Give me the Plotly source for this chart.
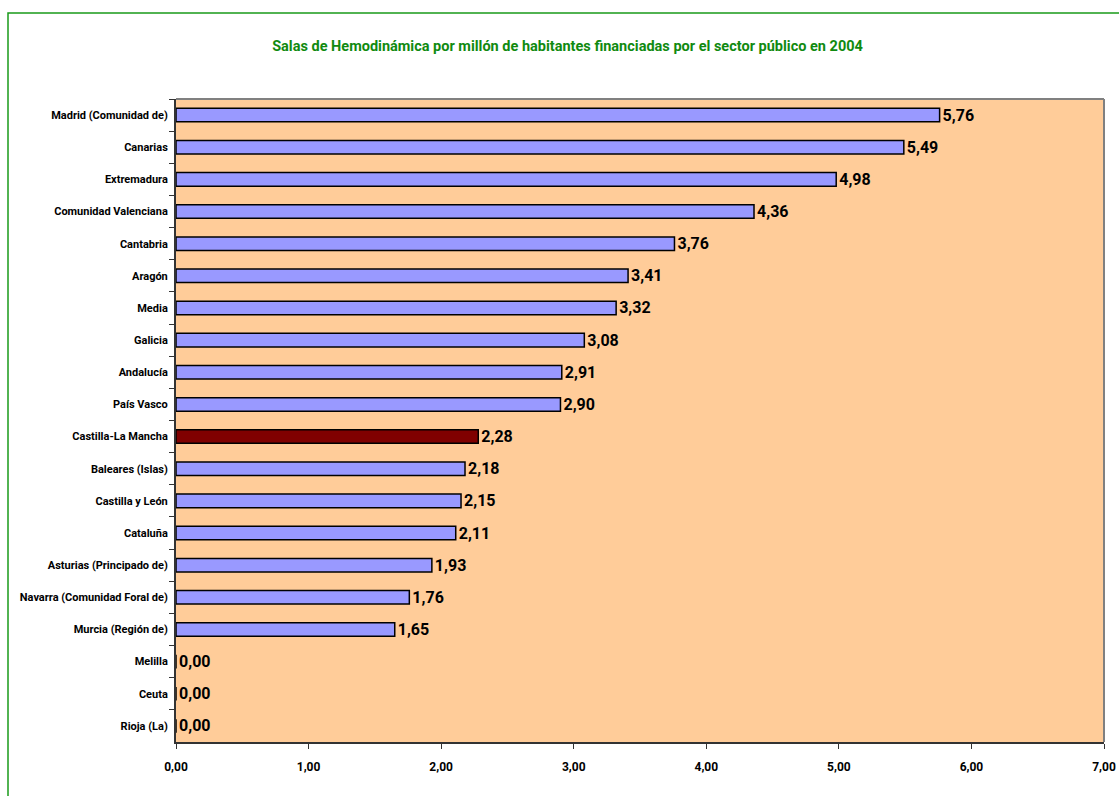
import plotly.graph_objects as go

# Data
regiones = [
    "Madrid (Comunidad de)", "Canarias", "Extremadura", "Comunidad Valenciana",
    "Cantabria", "Aragón", "Media", "Galicia", "Andalucía", "País Vasco",
    "Castilla-La Mancha", "Baleares (Islas)", "Castilla y León", "Cataluña",
    "Asturias (Principado de)", "Navarra (Comunidad Foral de)", "Murcia (Región de)",
    "Melilla", "Ceuta", "Rioja (La)",
]
salas = [5.76, 5.49, 4.98, 4.36, 3.76, 3.41, 3.32, 3.08, 2.91, 2.90,
         2.28, 2.18, 2.15, 2.11, 1.93, 1.76, 1.65, 0.00, 0.00, 0.00]
destacada = "Castilla-La Mancha"
x_ticks = [0, 1, 2, 3, 4, 5, 6, 7]

font_fam = "Roboto, Liberation Sans, sans-serif"
colores = ["#800000" if r == destacada else "#9999FF" for r in regiones]

W, H = 1119, 796
ml, mr, mt, mb = 176, 15, 99, 54

fig = go.Figure(go.Bar(
    x=salas,
    y=regiones,
    orientation="h",
    marker=dict(color=colores, line=dict(color="#000000", width=1.5)),
    width=0.42,
    texttemplate="%{x:.2f}",
    textposition="outside",
    constraintext="none",
    textfont=dict(family=font_fam, size=16, color="#000000", weight="bold"),
    cliponaxis=False,
))

fig.update_layout(
    width=W,
    height=H,
    margin=dict(l=ml, r=mr, t=mt, b=mb),
    paper_bgcolor="#FFFFFF",
    plot_bgcolor="#FFCC99",
    separators=",.",
    showlegend=False,
    font=dict(family=font_fam, color="#000000", weight="bold"),
    title=dict(
        text="Salas de Hemodinámica por millón de habitantes financiadas por el sector público en 2004",
        x=567.5 / W, xanchor="center", xref="container",
        y=1 - 46 / H, yanchor="middle", yref="container",
        font=dict(family=font_fam, size=14.5, color="#108A10", weight="bold"),
    ),
    xaxis=dict(
        range=[0, 7],
        tickvals=x_ticks,
        tickformat=".2f",
        ticks="outside", ticklen=5, tickcolor="#333333",
        showgrid=False, zeroline=False,
        showline=True, linecolor="#333333", linewidth=2,
        tickfont=dict(family=font_fam, size=12, color="#000000", weight="bold"),
        ticklabelstandoff=8,
        automargin=False,
    ),
    yaxis=dict(
        autorange="reversed",
        tickson="boundaries",
        ticks="outside", ticklen=5, tickcolor="#333333",
        showgrid=False, zeroline=False,
        showline=True, linecolor="#333333", linewidth=2,
        tickfont=dict(family=font_fam, size=11, color="#000000", weight="bold"),
        ticklabelstandoff=4,
        automargin=False,
    ),
    bargap=0.58,
)

# gray top/right frame of plot area
fig.add_shape(type="line", xref="paper", yref="paper", x0=0, x1=1, y0=1, y1=1,
              line=dict(color="#808080", width=2))
fig.add_shape(type="line", xref="paper", yref="paper", x0=1, x1=1, y0=0, y1=1,
              line=dict(color="#808080", width=2))

# green chart border (runs off the right and bottom edges)
pw, ph = W - ml - mr, H - mt - mb
fig.add_shape(type="rect", xref="paper", yref="paper",
              x0=(8 - ml) / pw, x1=(W + 20 - ml) / pw,
              y0=(H - mb - (H + 20)) / ph, y1=(H - mb - 13) / ph,
              line=dict(color="#1A9A1A", width=1.5), fillcolor="rgba(0,0,0,0)",
              layer="below")

# drop the page's default body margin so the figure fills the window
fig.write_html("out.html", config={"displayModeBar": False},
               post_script="document.body.style.margin='0';document.body.style.overflow='hidden';")
